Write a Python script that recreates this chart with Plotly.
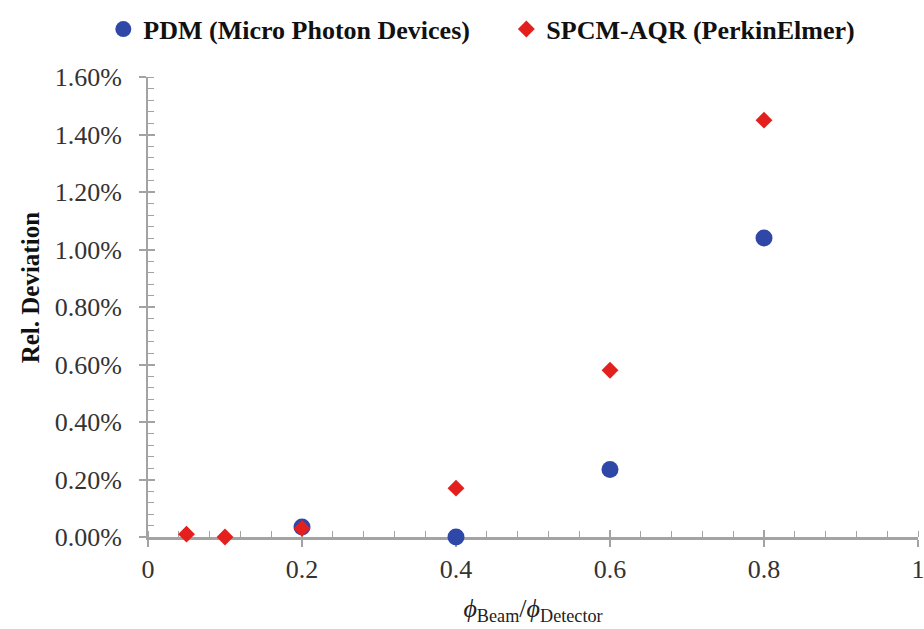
import plotly.graph_objects as go

pdm_x = [0.2, 0.4, 0.6, 0.8]
pdm_y = [0.035, 0.0, 0.235, 1.04]          # percent
spcm_x = [0.05, 0.1, 0.2, 0.4, 0.6, 0.8]
spcm_y = [0.01, 0.0, 0.03, 0.17, 0.58, 1.45]  # percent

BLUE = "#2f48a8"
RED = "#e3201e"
FONT = "Liberation Serif"
AXIS = "#a3a3a3"

fig = go.Figure()
fig.add_trace(go.Scatter(x=[None], y=[None], showlegend=False, hoverinfo="skip"))
fig.add_trace(go.Scatter(x=pdm_x, y=pdm_y, mode="markers", name="PDM (Micro Photon Devices)",
                         xaxis="x2", yaxis="y2",
                         marker=dict(symbol="circle", size=17, color=BLUE), cliponaxis=False))
fig.add_trace(go.Scatter(x=spcm_x, y=spcm_y, mode="markers", name="SPCM-AQR (PerkinElmer)",
                         xaxis="x2", yaxis="y2",
                         marker=dict(symbol="diamond", size=13, color=RED), cliponaxis=False))

fig.update_layout(
    width=924, height=629,
    margin=dict(l=148, r=6, t=75, b=92),
    plot_bgcolor="white", paper_bgcolor="white",
    font=dict(family=FONT, size=26, color="#333333"),
    showlegend=True,
    legend=dict(orientation="h", x=-0.058, xanchor="left", y=1.104, yanchor="middle",
                font=dict(family=FONT, size=26, color="#111111", weight="bold"),
                entrywidth=358, entrywidthmode="pixels", bgcolor="rgba(0,0,0,0)"),
    # main axes: inside major ticks only (crossing part)
    xaxis=dict(range=[0, 1], dtick=0.2, tick0=0, layer="below traces", automargin=False,
               showticklabels=False, showgrid=False, zeroline=False, showline=False,
               ticks="inside", ticklen=7, tickwidth=1.5, tickcolor=AXIS),
    yaxis=dict(range=[0, 1.6], dtick=0.2, tick0=0, layer="below traces", automargin=False,
               showticklabels=False, showgrid=False, zeroline=False, showline=False,
               ticks="inside", ticklen=7, tickwidth=1.5, tickcolor=AXIS),
    xaxis2=dict(overlaying="x", range=[0, 1], dtick=0.2, tick0=0, tickformat="~g", side="bottom",
                layer="below traces", ticklabeloverflow="allow", automargin=False,
                showgrid=False, zeroline=False,
                showline=True, linecolor=AXIS, linewidth=3,
                ticks="outside", ticklen=7, tickwidth=1.5, tickcolor=AXIS,
                minor=dict(dtick=0.04, ticks="inside", ticklen=6, tickcolor=AXIS, tickwidth=1, showgrid=False),
                tickfont=dict(family=FONT, size=26, color="#333333"),
                title=dict(text="<i>ϕ</i><sub>Beam</sub>/<i>ϕ</i><sub>Detector</sub>",
                           font=dict(family=FONT, size=26, color="#222222"), standoff=16)),
    yaxis2=dict(overlaying="y", range=[0, 1.6], dtick=0.2, tick0=0, tickformat=".2f", ticksuffix="%",
                side="left", layer="below traces", ticklabelstandoff=12, automargin=False,
                showgrid=False, zeroline=False,
                showline=True, linecolor=AXIS, linewidth=2,
                ticks="outside", ticklen=7, tickwidth=1.5, tickcolor=AXIS,
                minor=dict(dtick=0.04, ticks="inside", ticklen=6, tickcolor=AXIS, tickwidth=1, showgrid=False),
                tickfont=dict(family=FONT, size=26, color="#333333")),
    annotations=[dict(text="<b>Rel. Deviation</b>", xref="paper", yref="paper",
                      x=-0.153, y=0.541, xanchor="center", yanchor="middle", textangle=-90,
                      showarrow=False, font=dict(family=FONT, size=25, color="#111111"))],
)

fig.write_html("out.html")
